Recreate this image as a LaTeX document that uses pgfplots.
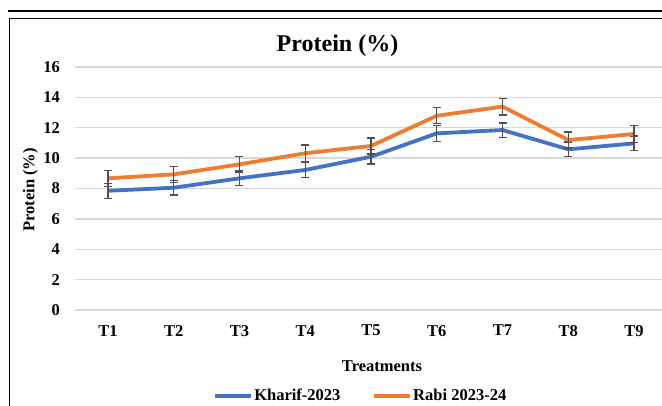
\documentclass[border=0pt]{standalone}
\usepackage{fontspec}
\setmainfont{Liberation Serif}
\usepackage{pgfplots}
\usepackage{pgfplotstable}
\pgfplotsset{compat=1.18}
\definecolor{kblue}{HTML}{4472C4}
\definecolor{rorange}{HTML}{ED7D31}
\definecolor{errgray}{HTML}{505050}
\definecolor{gridgray}{HTML}{D9D9D9}
\pgfplotstableread{
x k ke r re
1 7.85 0.50 8.67 0.53
2 8.05 0.48 8.93 0.52
3 8.67 0.48 9.59 0.50
4 9.22 0.50 10.32 0.54
5 10.09 0.48 10.80 0.52
6 11.63 0.52 12.79 0.53
7 11.85 0.47 13.39 0.55
8 10.58 0.49 11.19 0.53
9 10.97 0.48 11.59 0.54
}\datatable
\begin{document}
\begin{tikzpicture}[x=1pt,y=1pt]
\useasboundingbox (0,0) rectangle (662,406);
\clip (0,0) rectangle (662,406);
\draw[line width=1.5pt] (8,395) -- (662,395);
\draw[line width=1.6pt] (9.5,0) -- (9.5,387.5) -- (662,387.5);
\begin{axis}[
  at={(75pt,96pt)}, anchor=south west,
  scale only axis, width=592pt, height=243pt,
  xmin=0.5, xmax=9.5, ymin=0, ymax=16,
  xtick={1,...,9}, xticklabels={T1,T2,T3,T4,T5,T6,T7,T8,T9},
  ytick={0,2,...,16},
  ymajorgrids, grid style={gridgray, line width=1.3pt},
  axis line style={draw=none},
  major tick length=0pt,
  tick label style={font=\fontsize{16.5}{19}\selectfont\bfseries},
  /pgf/number format/assume math mode=true,
  yticklabel style={inner sep=0pt, anchor=east, xshift=-15pt},
  xticklabel style={inner sep=0pt, anchor=north, yshift=-15pt},
  legend style={draw=none, fill=none, at={(0.2331,-0.3527)}, anchor=west,
    legend columns=2, inner sep=0pt, outer sep=0pt,
    nodes={inner sep=1.5pt},
    font=\fontsize{16.5}{19}\selectfont\bfseries,
    /tikz/every even column/.append style={column sep=30pt}},
  legend cell align=left,
  legend image code/.code={\draw[#1] (0pt,0pt) -- (36pt,0pt);},
]
\addplot[kblue, line width=3.8pt, line join=round, forget plot,
  error bars/.cd, y dir=both, y explicit,
  error bar style={errgray, line width=1.3pt},
  error mark options={errgray, rotate=90, mark size=4pt, line width=1.3pt}]
  table[x=x, y=k, y error=ke] {\datatable};
\addplot[rorange, line width=3.8pt, line join=round, forget plot,
  error bars/.cd, y dir=both, y explicit,
  error bar style={errgray, line width=1.3pt},
  error mark options={errgray, rotate=90, mark size=4pt, line width=1.3pt}]
  table[x=x, y=r, y error=re] {\datatable};
\addlegendimage{kblue, line width=3.8pt}
\addlegendentry{Kharif-2023}
\addlegendimage{rorange, line width=3.8pt}
\addlegendentry{Rabi 2023-24}
\end{axis}
\node[anchor=base, font=\fontsize{24}{28}\selectfont\bfseries] at (337.5,354.3) {Protein (\%)};
\node[anchor=base, font=\fontsize{16.5}{19}\selectfont\bfseries] at (382,34) {Treatments};
\node[rotate=90, inner sep=0pt, font=\fontsize{16.5}{19}\selectfont\bfseries] at (30.3,216) {Protein (\%)};
\end{tikzpicture}
\end{document}
